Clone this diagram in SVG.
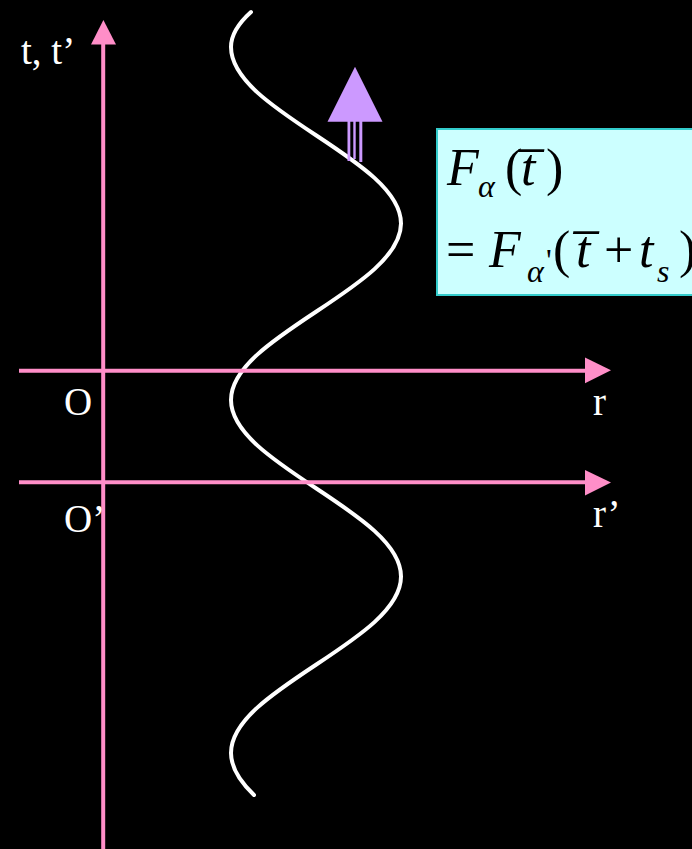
<svg xmlns="http://www.w3.org/2000/svg" width="692" height="849" viewBox="0 0 692 849">
  <style>
    .axis { stroke: #ff8ec8; stroke-width: 4; fill: none; }
    .head { fill: #ff8ec8; }
    .lbl { font-family: "Liberation Serif", "Times New Roman", serif; font-size: 39px; fill: #ffffff; }
    .m { font-family: "Liberation Serif", "Times New Roman", serif; font-size: 52px; fill: #000000; }
    .mi { font-style: italic; }
    .sub { font-size: 32px; }
    .wave { stroke: #ffffff; stroke-width: 4; fill: none; stroke-linecap: round; stroke-linejoin: round; }
    .up { fill: #cc99ff; }
  </style>
  <rect x="0" y="0" width="692" height="849" fill="#000000"/>

  <g id="wave">
    <path class="wave" d="M251,12 Q231,30 231,47 C231,111.1 401,159.4 401,223.5 C401,287.6 231,335.9 231,400 C231,464.1 401,512.4 401,576.5 C401,640.6 231,688.9 231,753 Q231,773 254,795"/>
  </g>

  <g id="connectors">
    <line class="axis" x1="103.2" y1="849" x2="103.2" y2="42"/>
    <polygon class="head" points="103.4,20 91,44.5 116,44.5"/>
    <line class="axis" x1="19" y1="370.7" x2="587" y2="370.7"/>
    <polygon class="head" points="611,370.3 585,357.5 585,383.3"/>
    <line class="axis" x1="19" y1="482.3" x2="587" y2="482.3"/>
    <polygon class="head" points="611,482.5 585,470 585,495.5"/>
  </g>

  <g id="labels">
    <text class="lbl" x="21" y="64">t, t’</text>
    <text class="lbl" x="64" y="415">O</text>
    <text class="lbl" x="64" y="532">O’</text>
    <text class="lbl" x="593" y="415">r</text>
    <text class="lbl" x="593" y="527">r’</text>
  </g>

  <g id="up-arrow">
    <polygon class="up" points="355,66.7 327.5,121.7 382.5,121.7"/>
    <rect class="up" x="347.5" y="121" width="2.8" height="40"/>
    <rect class="up" x="353.3" y="121" width="2.4" height="38"/>
    <rect class="up" x="359.3" y="121" width="3" height="41"/>
  </g>

  <g id="formula">
    <rect x="437" y="129" width="262" height="166" fill="#ccffff" stroke="#33cccc" stroke-width="2"/>
    <text class="m mi" x="447" y="185">F</text>
    <text class="m mi sub" x="478" y="197">α</text>
    <text class="m" x="505" y="185">(</text>
    <text class="m mi" x="521" y="185">t̅</text>
    <text class="m" x="546" y="185">)</text>

    <text class="m" x="446" y="267">=</text>
    <text class="m mi" x="489" y="267">F</text>
    <text class="m mi sub" x="527" y="282">α</text>
    <text class="m sub" x="546" y="271">'</text>
    <text class="m" x="553" y="267">(</text>
    <text class="m mi" x="576" y="267">t̅</text>
    <text class="m" x="604" y="267">+</text>
    <text class="m mi" x="639" y="267">t</text>
    <text class="m mi sub" x="657" y="282">s</text>
    <text class="m" x="679" y="267">)</text>
  </g>
</svg>
